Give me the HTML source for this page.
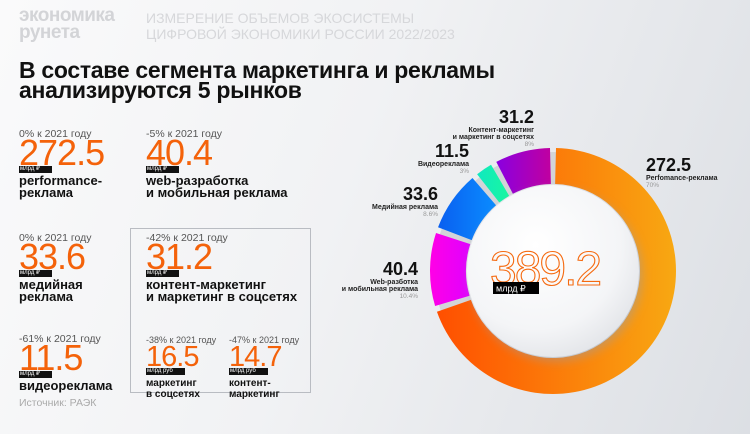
<!DOCTYPE html>
<html><head><meta charset="utf-8">
<style>
body{margin:0;width:750px;height:434px;overflow:hidden;font-family:"Liberation Sans",sans-serif;}
#root{position:relative;width:750px;height:434px;background:linear-gradient(110deg,#fafafb 0%,#f1f2f4 45%,#dcdfe4 100%);}
.a{position:absolute;white-space:nowrap;}
.logo{left:19px;top:7px;font-size:19px;font-weight:bold;color:#d3d4d7;line-height:17px;letter-spacing:-0.5px}
.hdr{left:146px;top:10px;font-size:14px;color:#d6d7da;line-height:16px}
.title{left:19px;top:60px;font-size:23px;font-weight:bold;color:#111;line-height:20px;letter-spacing:-0.3px}
.pct{font-size:10.5px;color:#555;line-height:11px}
.num{font-size:36px;color:#f4620a;line-height:26px;letter-spacing:-1px}
.num.s{font-size:29px;line-height:22px;letter-spacing:-1px}
.unit{background:#111;color:#fff;font-size:6px;padding:0 12px 0 1px;line-height:7px;display:table}
.lbl{font-size:13px;font-weight:bold;color:#111;line-height:12px}
.lbl.s{font-size:10px;line-height:11px}
.box{left:130px;top:228px;width:181px;height:165px;border:1px solid #b9bcc2;box-sizing:border-box}
.src{left:19px;top:397px;font-size:10.5px;color:#aaa}
</style></head><body>
<div id="root">
<div class="a logo">экономика<br>рунета</div>
<div class="a hdr">ИЗМЕРЕНИЕ ОБЪЕМОВ ЭКОСИСТЕМЫ<br>ЦИФРОВОЙ ЭКОНОМИКИ РОССИИ 2022/2023</div>
<div class="a title">В составе сегмента маркетинга и рекламы<br>анализируются 5 рынков</div>
<div class="a box"></div>

<div class="a" style="left:19px;top:129px">
<div class="pct">0% к 2021 году</div><div class="num">272.5</div><div class="unit">млрд ₽</div>
<div class="lbl" style="margin-top:2px">performance-<br>реклама</div></div>

<div class="a" style="left:146px;top:129px">
<div class="pct">-5% к 2021 году</div><div class="num">40.4</div><div class="unit">млрд ₽</div>
<div class="lbl" style="margin-top:2px">web-разработка<br>и мобильная реклама</div></div>

<div class="a" style="left:19px;top:233px">
<div class="pct">0% к 2021 году</div><div class="num">33.6</div><div class="unit">млрд ₽</div>
<div class="lbl" style="margin-top:2px">медийная<br>реклама</div></div>

<div class="a" style="left:146px;top:233px">
<div class="pct">-42% к 2021 году</div><div class="num">31.2</div><div class="unit">млрд ₽</div>
<div class="lbl" style="margin-top:2px">контент-маркетинг<br>и маркетинг в соцсетях</div></div>

<div class="a" style="left:19px;top:334px">
<div class="pct">-61% к 2021 году</div><div class="num">11.5</div><div class="unit">млрд ₽</div>
<div class="lbl" style="margin-top:2px">видеореклама</div></div>

<div class="a" style="left:146px;top:335px">
<div class="pct" style="font-size:9px">-38% к 2021 году</div><div class="num s">16.5</div><div class="unit">млрд руб</div>
<div class="lbl s" style="margin-top:3px">маркетинг<br>в соцсетях</div></div>

<div class="a" style="left:229px;top:335px">
<div class="pct" style="font-size:9px">-47% к 2021 году</div><div class="num s">14.7</div><div class="unit">млрд руб</div>
<div class="lbl s" style="margin-top:3px">контент-<br>маркетинг</div></div>

<div class="a src">Источник: РАЭК</div>

<svg class="a" style="left:0;top:0" width="750" height="434" id="chart">
<defs>
<linearGradient id="gOr" x1="0" x2="1" y1="0" y2="0"><stop offset="0" stop-color="#ff4f00"/><stop offset="1" stop-color="#f8a812"/></linearGradient>
<linearGradient id="gMag" x1="0" x2="1"><stop offset="0" stop-color="#ff00e6"/><stop offset="1" stop-color="#e000ff"/></linearGradient>
<linearGradient id="gBlue" x1="0" x2="1"><stop offset="0" stop-color="#0a5ff0"/><stop offset="1" stop-color="#0a8cff"/></linearGradient>
<linearGradient id="gCy" x1="0" x2="1"><stop offset="0" stop-color="#10e8c0"/><stop offset="1" stop-color="#19f7a0"/></linearGradient>
<linearGradient id="gPur" x1="0" x2="1"><stop offset="0" stop-color="#8a00e0"/><stop offset="1" stop-color="#c000a0"/></linearGradient>
<radialGradient id="gIn" cx="0.4" cy="0.35" r="0.7"><stop offset="0" stop-color="#ffffff"/><stop offset="0.7" stop-color="#f4f5f7"/><stop offset="1" stop-color="#e2e4e8"/></radialGradient>
<filter id="sh" x="-30%" y="-30%" width="160%" height="160%"><feGaussianBlur stdDeviation="5"/></filter>
</defs>
<g id="segs"></g>
</svg>
</div>
<script>
const categories = ["Perfomance-реклама","Web-разработка и мобильная реклама","Медийная реклама","Видеореклама","Контент-маркетинг и маркетинг в соцсетях"];
const values = [272.5, 40.4, 33.6, 11.5, 31.2];
const percents = ["70%","10.4%","8.6%","3%","8%"];
const fills = ["url(#gOr)","url(#gMag)","url(#gBlue)","url(#gCy)","url(#gPur)"];
const totalLabel = "389.2";

const NS="http://www.w3.org/2000/svg";
const cx=553, cy=271, rO=123, rI=87, gap=1.4;
const g=document.getElementById('segs');
const total=values.reduce((a,b)=>a+b,0);
function pt(r,deg){const a=(deg-90)*Math.PI/180;return [cx+r*Math.cos(a),cy+r*Math.sin(a)];}
const bg=document.createElementNS(NS,'circle');


bg.setAttribute('cx',cx);bg.setAttribute('cy',cy);bg.setAttribute('r',(rO+rI)/2-2);
bg.setAttribute('fill','none');bg.setAttribute('stroke','#d2d4d8');bg.setAttribute('stroke-width',rO-rI-4);
g.appendChild(bg);
let start=0;
const anchors={1:[418,275],2:[438,200],3:[469,157],4:[534,123]};
values.forEach((v,i)=>{
  const sweep=v/total*360;
  const a0=start+gap, a1=start+sweep-gap;
  const [x0,y0]=pt(rO,a0),[x1,y1]=pt(rO,a1),[x2,y2]=pt(rI,a1),[x3,y3]=pt(rI,a0);
  const large=(a1-a0)>180?1:0;
  const p=document.createElementNS(NS,'path');
  
  
  p.setAttribute('d',`M${x0},${y0}A${rO},${rO} 0 ${large} 1 ${x1},${y1}L${x2},${y2}A${rI},${rI} 0 ${large} 0 ${x3},${y3}Z`);
  p.setAttribute('fill',fills[i]);
  g.appendChild(p);
  let x,y,anchor;
  if(i===0){x=646;y=171;anchor='start';}else{[x,y]=anchors[i];anchor='end';}
  const t=document.createElementNS(NS,'text');
  
  
  t.setAttribute('x',x);t.setAttribute('y',y);t.setAttribute('text-anchor',anchor);
  t.setAttribute('font-size','18');t.setAttribute('font-weight','bold');t.setAttribute('fill','#111');
  t.textContent=values[i].toFixed(1);g.appendChild(t);
  const words=categories[i]==="Web-разработка и мобильная реклама"?["Web-разботка","и мобильная реклама"]:categories[i].startsWith("Контент")?["Контент-маркетинг","и маркетинг в соцсетях"]:[categories[i]];
  words.forEach((w,k)=>{
    const c=document.createElementNS(NS,'text');
    
    
    c.setAttribute('x',x);c.setAttribute('y',y+9+k*7);c.setAttribute('text-anchor',anchor);
    c.setAttribute('font-size','7');c.setAttribute('font-weight','bold');c.setAttribute('fill','#222');
    c.textContent=w;g.appendChild(c);
  });
  const pc=document.createElementNS(NS,'text');
  
  
  pc.setAttribute('x',x);pc.setAttribute('y',y+9+words.length*7);pc.setAttribute('text-anchor',anchor);
  pc.setAttribute('font-size','6.5');pc.setAttribute('fill','#999');
  pc.textContent=percents[i];g.appendChild(pc);
  start+=sweep;
});
const s=document.createElementNS(NS,'circle');


s.setAttribute('cx',cx+3);s.setAttribute('cy',cy+4);s.setAttribute('r',rI-1);s.setAttribute('fill','#9aa0aa');s.setAttribute('opacity','0.5');s.setAttribute('filter','url(#sh)');
g.appendChild(s);
const c=document.createElementNS(NS,'circle');


c.setAttribute('cx',cx);c.setAttribute('cy',cy);c.setAttribute('r',rI-1);c.setAttribute('fill','url(#gIn)');
g.appendChild(c);
const tt=document.createElementNS(NS,'text');


tt.setAttribute('x',cx-63);tt.setAttribute('y',cy+14);tt.setAttribute('font-size','48');tt.setAttribute('fill','none');
tt.setAttribute('stroke','#f56a10');tt.setAttribute('stroke-width','1.1');tt.setAttribute('letter-spacing','-2');
tt.textContent=totalLabel;g.appendChild(tt);
const ub=document.createElementNS(NS,'rect');


ub.setAttribute('x',cx-60);ub.setAttribute('y',cy+11);ub.setAttribute('width',46);ub.setAttribute('height',12);ub.setAttribute('fill','#000');
g.appendChild(ub);
const ut=document.createElementNS(NS,'text');


ut.setAttribute('x',cx-57);ut.setAttribute('y',cy+20.5);ut.setAttribute('font-size','9');ut.setAttribute('fill','#fff');
ut.textContent='млрд ₽';g.appendChild(ut);
</script>
</body></html>
